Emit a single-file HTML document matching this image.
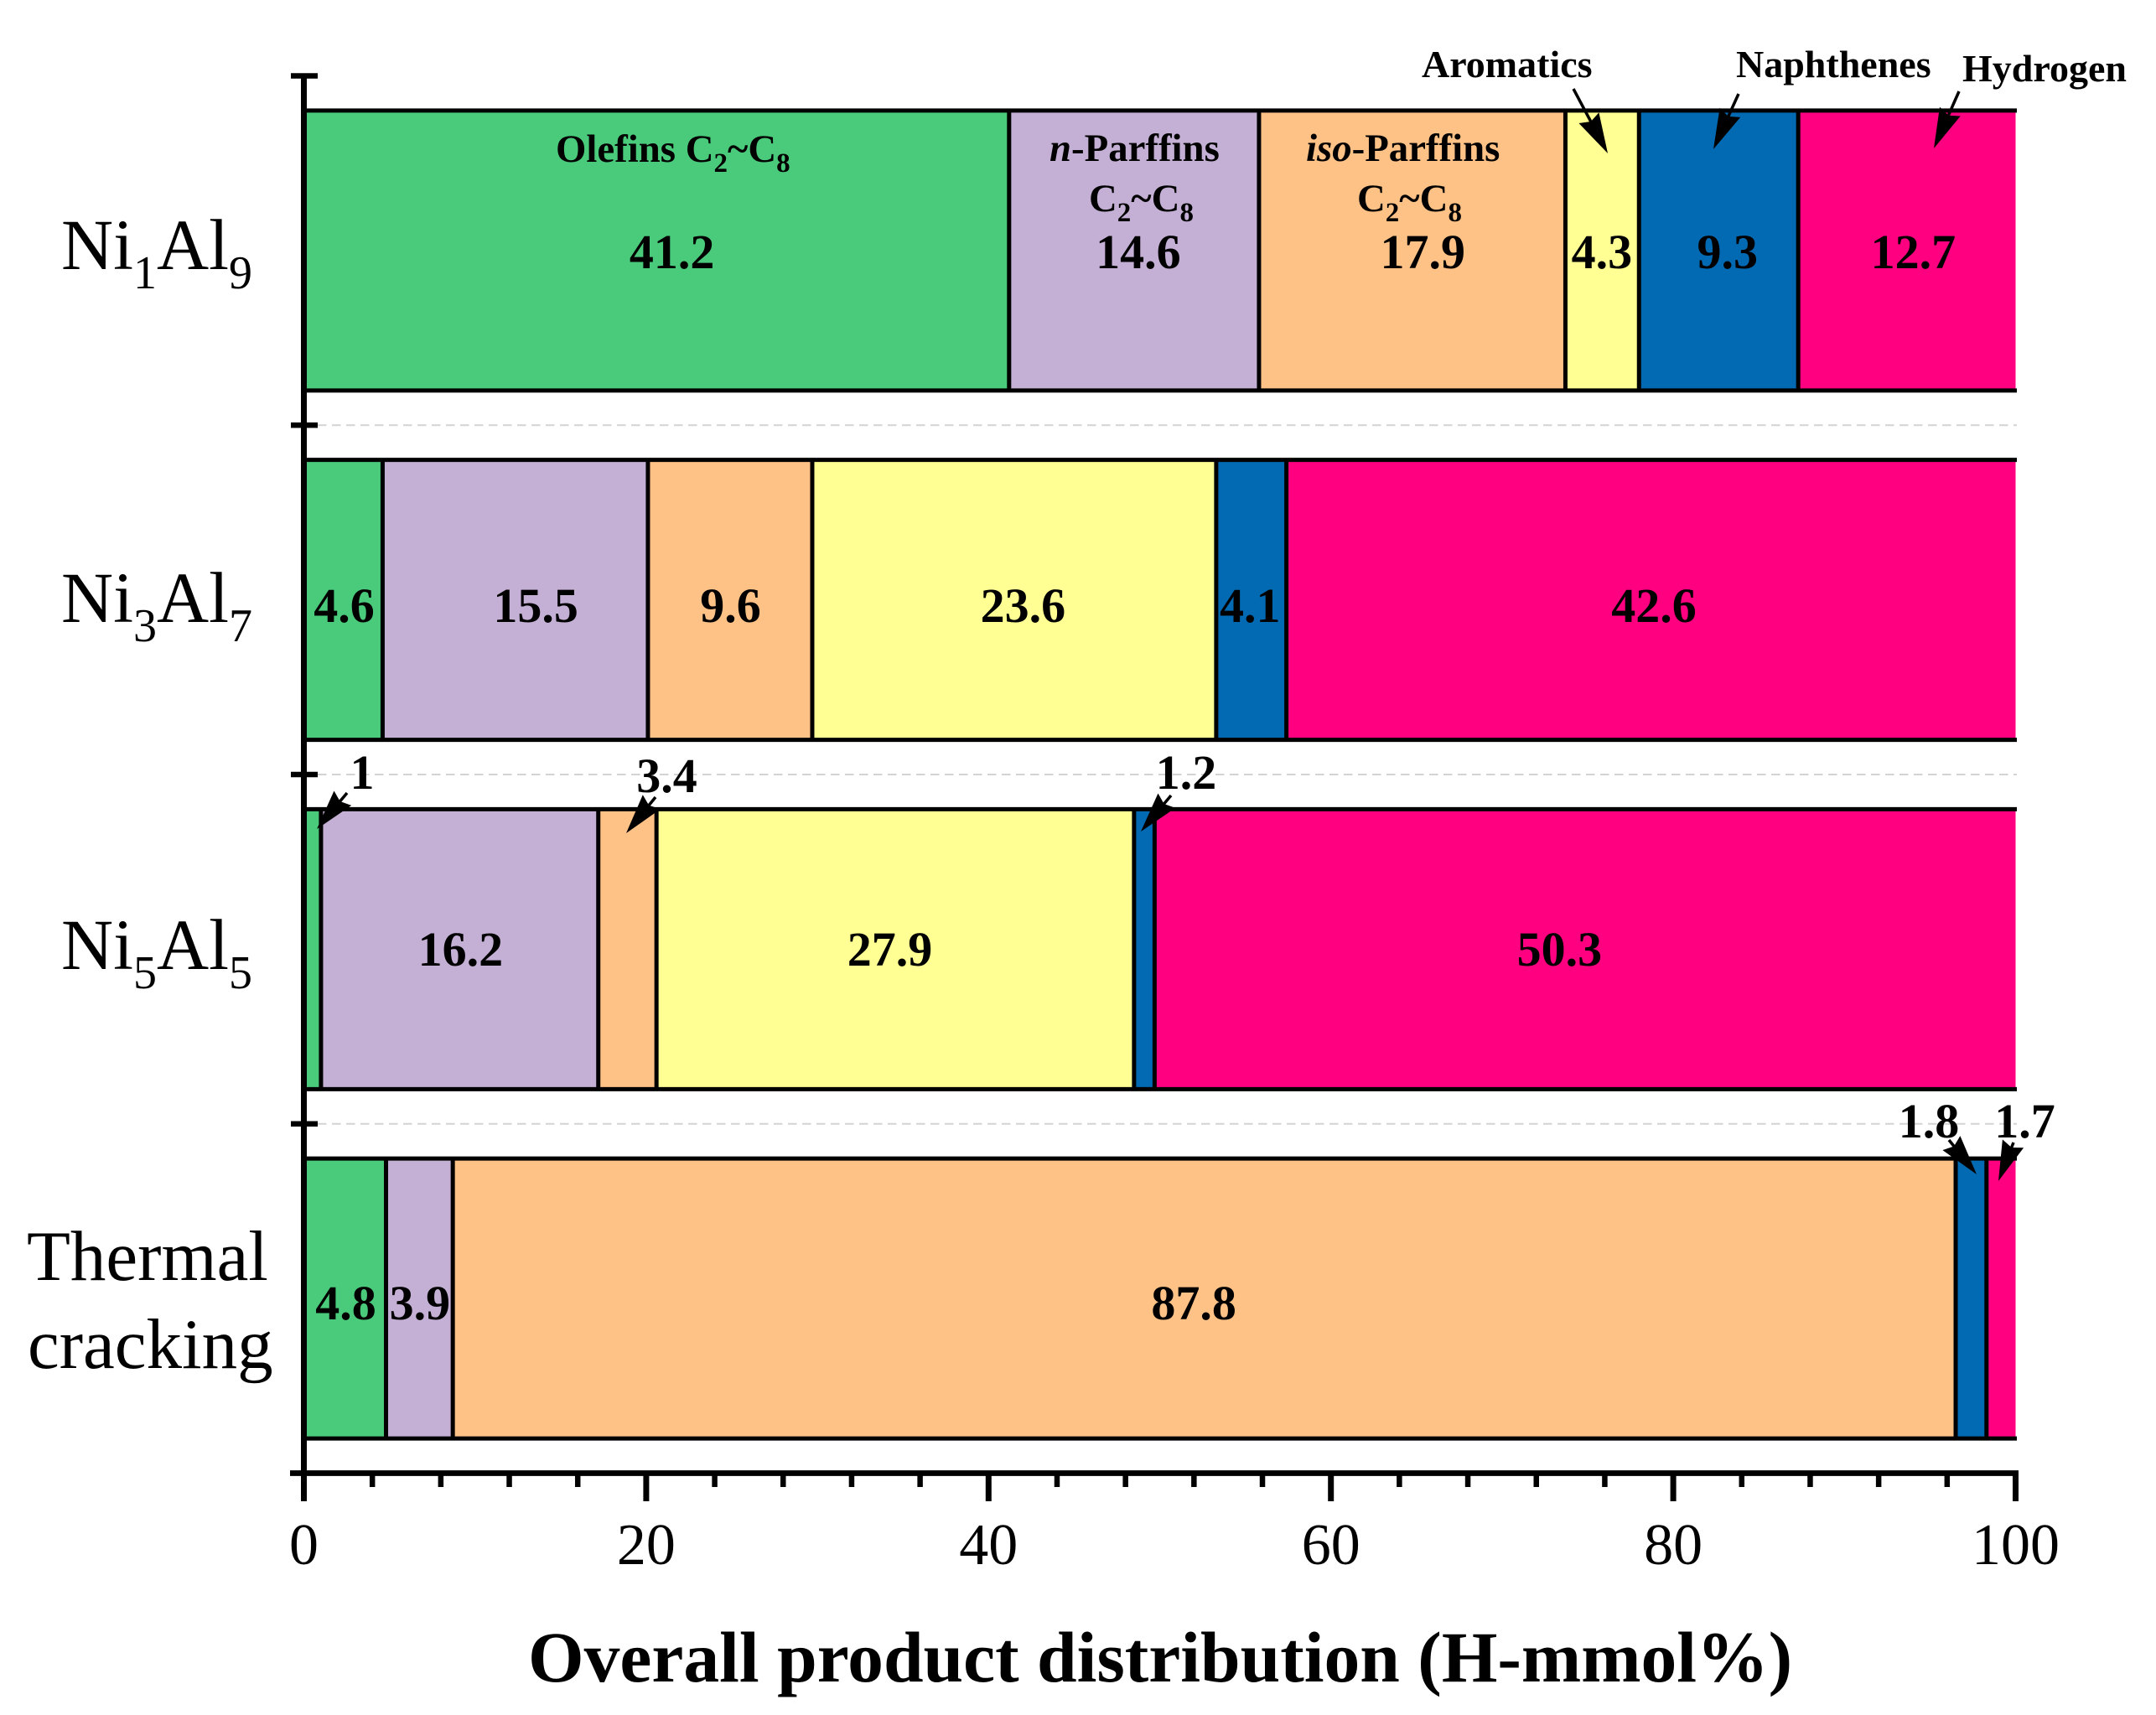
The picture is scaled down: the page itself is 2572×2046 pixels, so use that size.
<!DOCTYPE html>
<html lang="en">
<head>
<meta charset="utf-8">
<title>Overall product distribution</title>
<style>
  html, body { margin: 0; padding: 0; background: #fff; }
  svg { display: block; }
  text { font-family: "Liberation Serif", serif; fill: #000; }
  .cat { font-size: 86px; }
  .cat .sub { font-size: 56px; }
  .cat2 { font-size: 85px; }
  .small { font-size: 46px; font-weight: bold; }
  .small .sub { font-size: 30px; }
  .inbar { font-size: 46.8px; }
  .inbar .sub { font-size: 33px; }
  .small .it { font-style: italic; }
  .val { font-size: 58px; font-weight: bold; text-anchor: middle; }
  .tick { font-size: 70px; text-anchor: middle; }
  .title { font-size: 85.6px; font-weight: bold; }
</style>
</head>
<body>
<svg id="chart" xmlns="http://www.w3.org/2000/svg" width="2572" height="2046" viewBox="0 0 2572 2046">
  <rect x="0" y="0" width="2572" height="2046" fill="#fff"/>
  <g id="grid"></g>
  <g id="bars"></g>
  <g id="axes"></g>
  <g id="ticks"></g>
  <g id="values"></g>

  <g>
    <text class="cat" x="73" y="321">Ni<tspan class="sub" dy="23">1</tspan><tspan dy="-23">Al</tspan><tspan class="sub" dy="23">9</tspan></text>
    <text class="cat" x="73" y="742">Ni<tspan class="sub" dy="23">3</tspan><tspan dy="-23">Al</tspan><tspan class="sub" dy="23">7</tspan></text>
    <text class="cat" x="73" y="1156">Ni<tspan class="sub" dy="23">5</tspan><tspan dy="-23">Al</tspan><tspan class="sub" dy="23">5</tspan></text>
    <text class="cat2" x="32" y="1527">Thermal</text>
    <text class="cat2" x="33" y="1632">cracking</text>
  </g>

  <g>
    <text class="small inbar" x="663" y="193">Olefins C<tspan class="sub" dy="12">2</tspan><tspan dy="-12">~C</tspan><tspan class="sub" dy="12">8</tspan></text>
    <text class="small inbar" x="1252" y="192"><tspan class="it">n</tspan>-Parffins</text>
    <text class="small inbar" x="1299" y="252">C<tspan class="sub" dy="12">2</tspan><tspan dy="-12">~C</tspan><tspan class="sub" dy="12">8</tspan></text>
    <text class="small inbar" x="1558" y="192"><tspan class="it">iso</tspan>-Parffins</text>
    <text class="small inbar" x="1619" y="252">C<tspan class="sub" dy="12">2</tspan><tspan dy="-12">~C</tspan><tspan class="sub" dy="12">8</tspan></text>
    <text class="small" x="1696" y="92">Aromatics</text>
    <text class="small" x="2071" y="92">Naphthenes</text>
    <text class="small" x="2341" y="97">Hydrogen</text>
  </g>
  <g id="arrows"></g>

  <text class="title" x="630" y="2006">Overall product distribution (H-mmol%)</text>
</svg>

<script>
// ---- chart data ----
const categories = ["Ni1Al9", "Ni3Al7", "Ni5Al5", "Thermal cracking"];
const olefins = [41.2, 4.6, 1, 4.8];
const nParaffins = [14.6, 15.5, 16.2, 3.9];
const isoParaffins = [17.9, 9.6, 3.4, 87.8];
const aromatics = [4.3, 23.6, 27.9, 0];
const naphthenes = [9.3, 4.1, 1.2, 1.8];
const hydrogen = [12.7, 42.6, 50.3, 1.7];
const xMajorTicks = [0, 20, 40, 60, 80, 100];
const xMinorTicks = [4, 8, 12, 16, 24, 28, 32, 36, 44, 48, 52, 56, 64, 68, 72, 76, 84, 88, 92, 96];

// ---- layout ----
const seriesList = [
  { key: "olefins", values: olefins, color: "#4ACB7C" },
  { key: "n-paraffins", values: nParaffins, color: "#C4AFD5" },
  { key: "iso-paraffins", values: isoParaffins, color: "#FEC186" },
  { key: "aromatics", values: aromatics, color: "#FFFF93" },
  { key: "naphthenes", values: naphthenes, color: "#026AB3" },
  { key: "hydrogen", values: hydrogen, color: "#FE0080" }
];
const NS = "http://www.w3.org/2000/svg";
const X0 = 362.5, X_PER_UNIT = 20.42, CLIP_RIGHT = 2406;
const Y_TOP = 90.5, Y_STEP = 416.75, BAR_H = 334, AXIS_Y = 1757.5;
const xScale = v => X0 + v * X_PER_UNIT;
const rowCenter = i => Y_TOP + Y_STEP * (i + 0.5);
const rowBoundary = i => Y_TOP + Y_STEP * i;
const valueBaselines = [320, 742, 1152, 1574];
// manual horizontal placement offsets (px) of in-bar labels relative to the segment centre
const labelNudge = [
  [18.5, 5, 12.5, -0.5, 10.5, 7.5],
  [1, 24.5, 0.5, 10.5, -1.5, 3.5],
  [0, 1, 0, -6.5, 0, -30.5],
  [1, 0.5, -12.5, 0, 0, 0]
];
// values called out with an arrow instead of being printed inside the segment
const calloutPlacement = [
  { row: 2, s: 0, x: 432, y: 941, tail: [414, 946], tip: [378, 989] },
  { row: 2, s: 2, x: 795.5, y: 945, tail: [782, 951], tip: [747, 994] },
  { row: 2, s: 4, x: 1415, y: 941, tail: [1397, 949], tip: [1361, 992] },
  { row: 3, s: 4, x: 2301, y: 1357, tail: [2325, 1360], tip: [2358, 1401] },
  { row: 3, s: 5, x: 2415.5, y: 1357, tail: [2402, 1363], tip: [2384, 1409] }
];
const plainArrows = [
  { name: "aromatics", tail: [1877, 106], tip: [1918, 183] },
  { name: "naphthenes", tail: [2074, 112], tip: [2044, 178] },
  { name: "hydrogen", tail: [2337, 109], tip: [2307, 177] }
];

function make(parent, tag, attrs, text) {
  const el = document.createElementNS(NS, tag);
  for (const k in attrs) el.setAttribute(k, attrs[k]);
  if (text !== undefined) el.textContent = text;
  parent.appendChild(el);
  return el;
}
const gGrid = document.getElementById("grid");
const gBars = document.getElementById("bars");
const gAxes = document.getElementById("axes");
const gTicks = document.getElementById("ticks");
const gValues = document.getElementById("values");
const gArrows = document.getElementById("arrows");

// dashed separators between rows
[1, 2, 3].forEach(i => {
  const y = rowBoundary(i);
  const line = make(gGrid, "line", { x1: 379, x2: CLIP_RIGHT, y1: y, y2: y, stroke: "#d3d3d3", "stroke-width": 2, "stroke-dasharray": "10.5 6.5" });
  
  
});

// stacked bars
const isCallout = (row, s) => calloutPlacement.some(c => c.row === row && c.s === s);
categories.forEach((cat, row) => {
  const top = rowCenter(row) - BAR_H / 2;
  let cum = 0;
  const bounds = [];
  seriesList.forEach((series, s) => {
    const v = series.values[row];
    const x1 = xScale(cum);
    const x2 = Math.min(xScale(cum + v), CLIP_RIGHT);
    const seg = make(gBars, "rect", { x: x1, y: top, width: Math.max(0, x2 - x1), height: BAR_H, fill: series.color });
    
    
    if (v > 0 && !isCallout(row, s)) {
      const label = make(gValues, "text", { class: "val", x: xScale(cum + v / 2) + labelNudge[row][s], y: valueBaselines[row] }, String(v));
      
      
    }
    cum += v;
    bounds.push(cum);
  });
  // segment dividers
  bounds.forEach((b, i) => {
    if (i === bounds.length - 1 || (i > 0 && b === bounds[i - 1])) return;
    const x = xScale(b);
    const div = make(gBars, "line", { x1: x, x2: x, y1: top, y2: top + BAR_H, stroke: "#000", "stroke-width": 5 });
    
    
  });
  // bar outline top / bottom
  [top, top + BAR_H].forEach(y => {
    const edge = make(gBars, "line", { x1: X0, x2: CLIP_RIGHT, y1: y, y2: y, stroke: "#000", "stroke-width": 5 });
    
    
  });
});

// y axis
const yAxis = make(gAxes, "line", { x1: X0, x2: X0, y1: Y_TOP, y2: AXIS_Y, stroke: "#000", "stroke-width": 7 });


[0, 1, 2, 3].forEach(i => {
  const y = rowBoundary(i);
  const t = make(gAxes, "line", { x1: 347, x2: 379, y1: y, y2: y, stroke: "#000", "stroke-width": 6.6 });
  
  
});

// x axis
const xAxis = make(gAxes, "line", { x1: 346, x2: 2408, y1: AXIS_Y, y2: AXIS_Y, stroke: "#000", "stroke-width": 6.8 });


xMajorTicks.forEach(v => {
  const x = xScale(v);
  const t = make(gAxes, "line", { x1: x, x2: x, y1: AXIS_Y, y2: 1791, stroke: "#000", "stroke-width": 7 });
  
  
  const l = make(gTicks, "text", { class: "tick", x: x, y: 1866 }, String(v));
  
  
});
xMinorTicks.forEach(v => {
  const x = xScale(v);
  const t = make(gAxes, "line", { x1: x, x2: x, y1: AXIS_Y, y2: 1774, stroke: "#000", "stroke-width": 6.5 });
  
  
});

// arrows
function arrowParts(tail, tip) {
  const dx = tip[0] - tail[0], dy = tip[1] - tail[1];
  const len = Math.hypot(dx, dy), ux = dx / len, uy = dy / len;
  const HL = 48, HW = 13.5, NOTCH = 5;
  const bx = tip[0] - ux * HL, by = tip[1] - uy * HL;
  const pts = [
    [tip[0], tip[1]],
    [bx - uy * HW, by + ux * HW],
    [bx + ux * NOTCH, by + uy * NOTCH],
    [bx + uy * HW, by - ux * HW]
  ].map(p => p[0].toFixed(1) + "," + p[1].toFixed(1)).join(" ");
  return { pts: pts, nx: bx + ux * NOTCH, ny: by + uy * NOTCH };
}
function drawArrow(tail, tip) {
  const a = arrowParts(tail, tip);
  const shaft = make(gArrows, "line", { x1: tail[0], y1: tail[1], x2: a.nx, y2: a.ny, stroke: "#000", "stroke-width": 3.5 });
  
  
  const head = make(gArrows, "polygon", { points: a.pts, fill: "#000" });
  
  
}
plainArrows.forEach(a => drawArrow(a.tail, a.tip));
calloutPlacement.forEach(c => {
  drawArrow(c.tail, c.tip);
  const l = make(gValues, "text", { class: "val", x: c.x, y: c.y }, String(seriesList[c.s].values[c.row]));
  
  
});
// value and arrow groups above axes
document.getElementById("chart").appendChild(gValues);
</script>
</body>
</html>
